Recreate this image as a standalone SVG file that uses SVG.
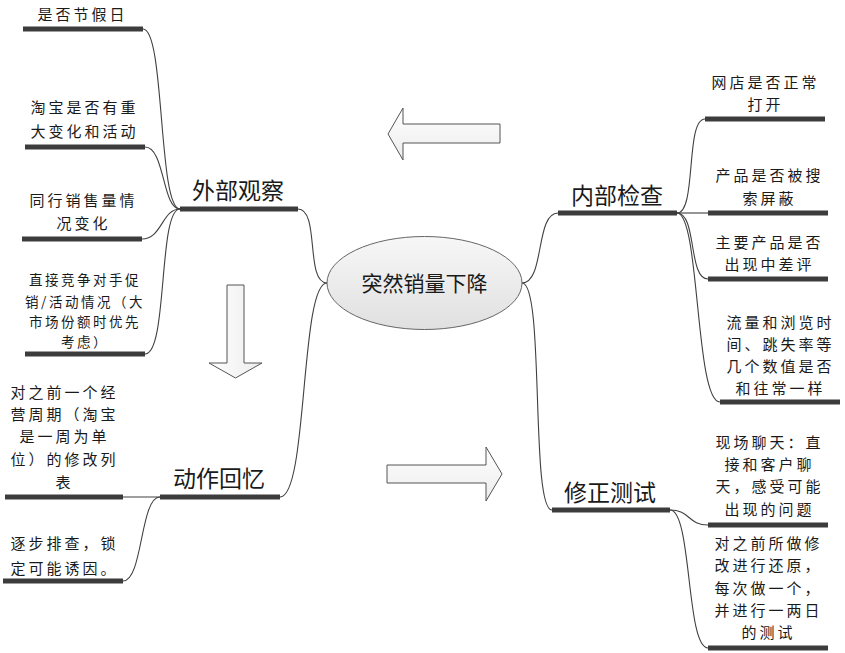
<svg xmlns="http://www.w3.org/2000/svg" width="845" height="653" viewBox="0 0 845 653">
<defs>
<linearGradient id="gEll" x1="0" y1="0" x2="0" y2="1">
<stop offset="0" stop-color="#f7f7f7"/>
<stop offset="1" stop-color="#e0e0e0"/>
</linearGradient>
<linearGradient id="gArrH" x1="0" y1="0" x2="0" y2="1">
<stop offset="0" stop-color="#ffffff"/>
<stop offset="1" stop-color="#ececec"/>
</linearGradient>
<linearGradient id="gArrV" x1="0" y1="0" x2="1" y2="0">
<stop offset="0" stop-color="#ffffff"/>
<stop offset="1" stop-color="#ececec"/>
</linearGradient>
</defs>
<style>
text{font-family:"Noto Sans CJK SC","Noto Sans CJK JP",sans-serif;fill:#1a1a1a;text-anchor:middle}
.t{font-size:15px;letter-spacing:3px}
.s{font-size:13.5px;letter-spacing:2.5px}
.m{font-size:23px}
.c{font-size:21px}
.ul{stroke:#3c3c3c;stroke-width:5;fill:none}
.cn{stroke:#404040;stroke-width:1.1;fill:none}
.arr{stroke:#555;stroke-width:1;stroke-linejoin:miter}
</style>
<rect width="845" height="653" fill="#ffffff"/>

<g id="connectors">
<path class="cn" d="M522,283 C545,283 535,213 558,213"/>
<path class="cn" d="M522,283 C545,283 530,510 552,510"/>
<path class="cn" d="M298,209 C320,209 305,283 327,283"/>
<path class="cn" d="M327,283 C300,283 308,497 280,497"/>
<path class="cn" d="M180,209 C158,209 165,29 143,29"/>
<path class="cn" d="M180,209 C162,209 165,147 145,147"/>
<path class="cn" d="M180,209 C162,209 162,239 142,239"/>
<path class="cn" d="M180,209 C158,209 168,354 145,354"/>
<path class="cn" d="M160,497 L123,497"/>
<path class="cn" d="M160,497 C140,497 143,581 123,581"/>
<path class="cn" d="M677,213 C697,213 685,119 705,119"/>
<path class="cn" d="M677,213 C690,213 695,213 708,213"/>
<path class="cn" d="M677,213 C697,213 688,279 708,279"/>
<path class="cn" d="M677,213 C700,213 695,402 720,402"/>
<path class="cn" d="M670,510 C690,510 688,525 708,525"/>
<path class="cn" d="M670,510 C692,510 686,648 708,648"/>
</g>

<g id="arrows">
<polygon class="arr" fill="url(#gArrH)" points="388,134 403,108 403,124 500,124 500,143 403,143 403,160"/>
<polygon class="arr" fill="url(#gArrV)" points="227,285 244,285 244,363 262,363 235.5,378 209,363 227,363"/>
<polygon class="arr" fill="url(#gArrH)" points="387,465 486,465 486,447 502,474 486,501 486,483 387,483"/>
</g>

<g id="center">
<ellipse cx="424.5" cy="283" rx="97.5" ry="46.5" fill="url(#gEll)" stroke="#666" stroke-width="1"/>
<text class="c" x="424.5" y="291">突然销量下降</text>
</g>

<g id="n-waibu">
<line class="ul" x1="180" y1="209" x2="298" y2="209"/>
<text class="m" x="238" y="199">外部观察</text>
</g>
<g id="n-jiejiari">
<line class="ul" x1="23" y1="29" x2="143" y2="29"/>
<text class="t" x="82.5" y="20">是否节假日</text>
</g>
<g id="n-taobao">
<line class="ul" x1="25" y1="147" x2="145" y2="147"/>
<text class="t" x="84.5" y="113"><tspan x="84.5">淘宝是否有重</tspan><tspan x="84.5" dy="24">大变化和活动</tspan></text>
</g>
<g id="n-tonghang">
<line class="ul" x1="22" y1="239" x2="142" y2="239"/>
<text class="t" x="83.5" y="206"><tspan x="83.5">同行销售量情</tspan><tspan x="83.5" dy="23">况变化</tspan></text>
</g>
<g id="n-jingzheng">
<line class="ul" x1="25" y1="354" x2="145" y2="354"/>
<text class="s" x="85" y="285"><tspan x="85">直接竞争对手促</tspan><tspan x="85" dy="22">销/活动情况（大</tspan><tspan x="85" dy="20">市场份额时优先</tspan><tspan x="85" dy="20">考虑）</tspan></text>
</g>

<g id="n-dongzuo">
<line class="ul" x1="160" y1="497" x2="280" y2="497"/>
<text class="m" x="219" y="487">动作回忆</text>
</g>
<g id="n-xiugailiebiao">
<line class="ul" x1="5" y1="497" x2="123" y2="497"/>
<text class="t" x="64.5" y="398"><tspan x="64.5">对之前一个经</tspan><tspan x="64.5" dy="22">营周期（淘宝</tspan><tspan x="64.5" dy="22">是一周为单</tspan><tspan x="64.5" dy="23">位）的修改列</tspan><tspan x="64.5" dy="23">表</tspan></text>
</g>
<g id="n-paicha">
<line class="ul" x1="3" y1="581" x2="123" y2="581"/>
<text class="t" x="64.5" y="549"><tspan x="64.5">逐步排查，锁</tspan><tspan x="64.5" dy="25">定可能诱因。</tspan></text>
</g>

<g id="n-neibu">
<line class="ul" x1="558" y1="213" x2="677" y2="213"/>
<text class="m" x="617" y="204">内部检查</text>
</g>
<g id="n-wangdian">
<line class="ul" x1="705" y1="119" x2="825" y2="119"/>
<text class="t" x="765.5" y="88"><tspan x="765.5">网店是否正常</tspan><tspan x="765.5" dy="22">打开</tspan></text>
</g>
<g id="n-pingbi">
<line class="ul" x1="708" y1="213" x2="828" y2="213"/>
<text class="t" x="769.5" y="181"><tspan x="769.5">产品是否被搜</tspan><tspan x="769.5" dy="23">索屏蔽</tspan></text>
</g>
<g id="n-chaping">
<line class="ul" x1="708" y1="279" x2="828" y2="279"/>
<text class="t" x="769.5" y="248"><tspan x="769.5">主要产品是否</tspan><tspan x="769.5" dy="22">出现中差评</tspan></text>
</g>
<g id="n-liuliang">
<line class="ul" x1="720" y1="402" x2="840" y2="402"/>
<text class="t" x="780.5" y="328"><tspan x="780.5">流量和浏览时</tspan><tspan x="780.5" dy="22">间、跳失率等</tspan><tspan x="780.5" dy="22">几个数值是否</tspan><tspan x="780.5" dy="22">和往常一样</tspan></text>
</g>

<g id="n-xiuzheng">
<line class="ul" x1="552" y1="510" x2="670" y2="510"/>
<text class="m" x="610" y="501">修正测试</text>
</g>
<g id="n-liaotian">
<line class="ul" x1="708" y1="525" x2="828" y2="525"/>
<text class="t" x="769.5" y="448"><tspan x="769.5">现场聊天：直</tspan><tspan x="769.5" dy="22">接和客户聊</tspan><tspan x="769.5" dy="22">天，感受可能</tspan><tspan x="769.5" dy="23">出现的问题</tspan></text>
</g>
<g id="n-huanyuan">
<line class="ul" x1="708" y1="648" x2="828" y2="648"/>
<text class="t" x="768.5" y="549"><tspan x="768.5">对之前所做修</tspan><tspan x="768.5" dy="22">改进行还原，</tspan><tspan x="768.5" dy="23">每次做一个，</tspan><tspan x="768.5" dy="22">并进行一两日</tspan><tspan x="768.5" dy="22">的测试</tspan></text>
</g>
</svg>
